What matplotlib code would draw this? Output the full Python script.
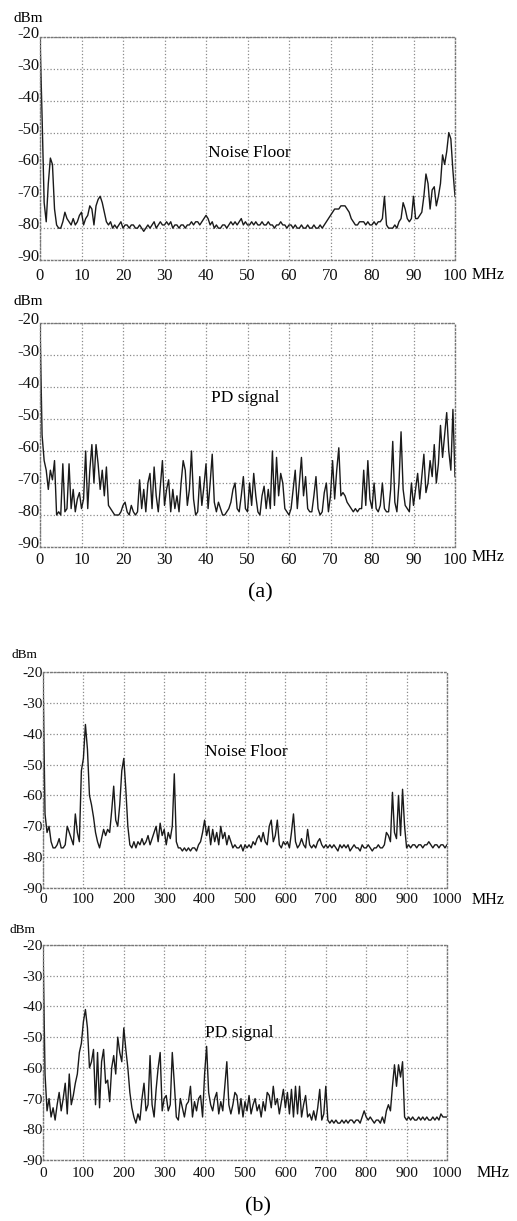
import numpy as np
import matplotlib
matplotlib.use("Agg")
import matplotlib.pyplot as plt
from matplotlib.transforms import ScaledTranslation

plt.rcParams['font.family'] = ['Liberation Serif', 'DejaVu Serif']

# (a) 0-100 MHz, one reading every 0.5 MHz
noise_a = [
    -20, -45, -72, -78, -66, -58, -60, -74, -79, -80, -80, -78, -75, -77, -78, -79, -77, -79, -78, -76,
    -75, -79, -77, -76, -73, -74, -79, -73, -71, -70, -72, -75, -78, -79, -78, -80, -79, -80, -79, -78,
    -80, -79, -79, -80, -79, -79, -80, -80, -79, -80, -81, -80, -79, -80, -79, -78, -80, -79, -78, -79,
    -79, -78, -79, -78, -80, -79, -79, -80, -79, -79, -80, -79, -79, -78, -79, -78, -78, -79, -78, -77,
    -76, -77, -79, -78, -80, -79, -80, -80, -79, -79, -80, -79, -78, -79, -78, -79, -78, -77, -79, -78,
    -79, -79, -78, -79, -78, -79, -79, -78, -79, -79, -78, -79, -79, -80, -79, -79, -78, -79, -79, -80,
    -79, -79, -80, -79, -80, -80, -79, -80, -80, -79, -80, -80, -79, -80, -80, -79, -80, -79, -78, -77,
    -76, -75, -74, -74, -74, -73, -73, -73, -74, -75, -77, -78, -79, -79, -78, -78, -78, -79, -78, -79,
    -79, -78, -79, -78, -78, -77, -70, -79, -80, -80, -80, -79, -80, -78, -77, -72, -74, -77, -78, -77,
    -70, -77, -77, -76, -75, -70, -63, -66, -74, -68, -67, -73, -70, -66, -57, -60, -56, -50, -52, -62,
    -70,
]
pd_a = [
    -20, -55, -63, -66, -72, -66, -69, -63, -80, -79, -80, -64, -79, -78, -64, -78, -72, -79, -75, -73,
    -78, -75, -60, -78, -66, -58, -70, -58, -64, -72, -66, -74, -65, -77, -78, -79, -80, -80, -80, -79,
    -77, -76, -79, -80, -77, -79, -80, -79, -69, -78, -72, -79, -70, -67, -78, -65, -74, -79, -71, -63,
    -77, -72, -69, -79, -72, -78, -74, -79, -70, -63, -66, -77, -72, -60, -75, -80, -79, -68, -77, -71,
    -64, -78, -70, -61, -76, -79, -76, -78, -80, -80, -79, -78, -76, -72, -70, -78, -79, -74, -68, -78,
    -79, -70, -77, -67, -74, -79, -80, -74, -71, -78, -72, -78, -60, -77, -62, -74, -67, -70, -78, -79,
    -80, -78, -72, -66, -78, -70, -62, -74, -68, -78, -79, -79, -74, -68, -78, -80, -79, -73, -70, -79,
    -74, -63, -75, -66, -59, -74, -73, -74, -76, -77, -78, -79, -78, -79, -78, -78, -66, -77, -63, -75,
    -78, -70, -78, -79, -77, -70, -78, -79, -79, -72, -57, -76, -79, -70, -54, -72, -77, -78, -79, -70,
    -77, -72, -67, -75, -68, -61, -73, -70, -63, -68, -58, -70, -64, -52, -62, -55, -48, -60, -66, -47,
    -68,
]

# (b) 0-1000 MHz, one reading every 5 MHz
noise_b = [
    -20, -66, -72, -70, -75, -77, -77, -76, -74, -77, -77, -76, -70, -72, -74, -76, -66, -72, -75, -52,
    -48, -37, -45, -60, -63, -67, -72, -75, -77, -74, -71, -73, -71, -72, -65, -57, -68, -70, -63, -52,
    -48, -58, -70, -76, -77, -75, -77, -75, -76, -74, -76, -75, -73, -76, -74, -72, -70, -75, -69, -73,
    -71, -76, -72, -74, -70, -53, -75, -77, -77, -78, -77, -78, -77, -78, -77, -77, -78, -76, -75, -72,
    -68, -73, -70, -76, -71, -75, -72, -76, -70, -74, -72, -76, -73, -75, -77, -76, -77, -77, -76, -78,
    -76, -77, -76, -77, -75, -76, -74, -73, -75, -72, -75, -76, -70, -68, -75, -73, -68, -76, -77, -75,
    -76, -75, -77, -72, -66, -75, -77, -76, -74, -76, -77, -71, -76, -77, -76, -77, -75, -74, -76, -77,
    -76, -77, -76, -77, -76, -77, -78, -76, -77, -76, -77, -76, -78, -77, -76, -77, -77, -78, -76, -77,
    -77, -76, -77, -78, -77, -77, -76, -77, -77, -76, -72, -73, -75, -59, -72, -74, -60, -73, -58, -70,
    -77, -76, -77, -76, -76, -77, -76, -76, -77, -76, -76, -75, -76, -77, -76, -76, -77, -76, -76, -77,
    -76,
]
pd_b = [
    -20, -62, -74, -70, -76, -73, -77, -72, -68, -74, -70, -65, -75, -62, -72, -69, -65, -62, -55, -52,
    -45, -41, -47, -60, -58, -54, -72, -55, -73, -58, -54, -65, -64, -71, -60, -56, -62, -50, -55, -58,
    -47, -54, -60, -68, -73, -76, -78, -75, -77, -70, -65, -74, -72, -56, -72, -76, -67, -60, -55, -74,
    -70, -69, -74, -72, -55, -65, -76, -77, -70, -73, -76, -72, -71, -66, -76, -71, -74, -70, -69, -76,
    -62, -53, -68, -72, -74, -70, -68, -75, -71, -74, -66, -58, -72, -75, -72, -68, -69, -75, -70, -76,
    -71, -74, -69, -75, -72, -70, -74, -72, -76, -71, -74, -68, -69, -73, -66, -72, -70, -75, -71, -67,
    -73, -68, -75, -67, -76, -66, -75, -66, -76, -72, -69, -76, -75, -77, -74, -77, -73, -67, -77, -75,
    -66, -77, -78, -77, -78, -77, -78, -78, -77, -78, -77, -78, -77, -77, -78, -77, -77, -78, -76, -74,
    -76, -77, -76, -77, -78, -77, -77, -78, -76, -78, -74, -72, -74, -66, -59, -66, -59, -63, -58, -76,
    -77, -76, -77, -76, -77, -77, -76, -77, -76, -77, -76, -77, -77, -76, -77, -76, -77, -75, -76, -76,
    -76,
]

y_ticks = [-20, -30, -40, -50, -60, -70, -80, -90]
x_ticks_a = list(range(0, 101, 10))
x_ticks_b = list(range(0, 1001, 100))

W, H = 517, 1221
fig = plt.figure(figsize=(W / 100, H / 100), dpi=100)


def box(l, r, t, b):
    # pixel box -> figure fraction
    return [l / W, 1 - b / H, (r - l) / W, (b - t) / H]


def panel(rect, xmax, xticks, vals, label, label_xy, xpad, fs, mhz_xy, dbm_xy, dbm_fs, ylift=0):
    ax = fig.add_axes(rect)
    x = np.linspace(0, xmax, len(vals))
    ax.plot(x, vals, color='#1a1a1a', lw=1.0)
    ax.set_xlim(0, xmax)
    ax.set_ylim(-90, -20)
    ax.set_xticks(xticks)
    ax.set_xticklabels([str(v) for v in xticks])
    ax.set_yticks(y_ticks)
    ax.set_yticklabels([str(v) for v in y_ticks])
    ax.tick_params(length=0, labelsize=fs, colors='#111111')
    ax.tick_params(axis='y', pad=0.5)
    ax.tick_params(axis='x', pad=xpad)
    if ylift:
        shift = ScaledTranslation(0, ylift / 100, fig.dpi_scale_trans)
        for t in ax.get_yticklabels():
            t.set_transform(t.get_transform() + shift)
    ax.grid(True, linestyle=':', color='#8a8a8a', lw=0.9)
    for s in ax.spines.values():
        s.set_linestyle(':')
        s.set_color('#777777')
        s.set_linewidth(1.0)
    ax.text(label_xy[0], label_xy[1], label, fontsize=12.5, ha='left', va='center')
    fig.text(mhz_xy[0] / W, 1 - mhz_xy[1] / H, 'MHz', fontsize=11.5, ha='left', va='center')
    fig.text(dbm_xy[0] / W, 1 - dbm_xy[1] / H, 'dBm', fontsize=dbm_fs, ha='left', va='center')
    return ax


panel(box(40, 455, 37, 260), 100, x_ticks_a, noise_a, 'Noise Floor', (40.5, -56.5), 5.5, 12,
      (472, 275), (14, 18), 11, ylift=5)
panel(box(40, 455, 323, 547), 100, x_ticks_a, pd_a, 'PD signal', (41.3, -43.5), 3.5, 12,
      (472, 557), (14, 302), 11, ylift=5)
panel(box(43, 447, 672, 888), 1000, x_ticks_b, noise_b, 'Noise Floor', (401, -46), 3.5, 11,
      (472, 900), (11, 655), 9.5)
panel(box(43, 447, 945, 1160), 1000, x_ticks_b, pd_b, 'PD signal', (401, -48.7), 5, 11,
      (477, 1173), (10, 930), 9.5)

fig.text(260 / W, 1 - 593 / H, '(a)', fontsize=16, ha='center', va='center')
fig.text(258 / W, 1 - 1207 / H, '(b)', fontsize=16, ha='center', va='center')

fig.savefig('out.png', dpi=100, facecolor='white')
